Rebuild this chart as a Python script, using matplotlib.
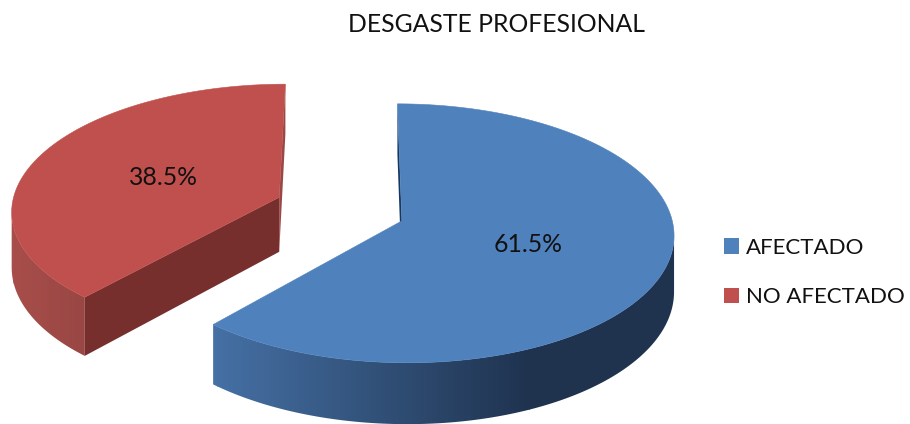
import numpy as np
import matplotlib
matplotlib.use("Agg")
import matplotlib.pyplot as plt
from matplotlib.colors import LinearSegmentedColormap
from matplotlib.patches import Patch, Polygon

title = "DESGASTE PROFESIONAL"
categories = ["AFECTADO", "NO AFECTADO"]
shares = [61.5, 38.5]
top_colors = ["#4f81bd", "#c0504d"]
cut_colors = ["#17375e", "#772f2e"]
side_ramps = [("#4570a4", "#1f334f"), ("#a84e4a", "#984644")]
ramp_spans = [(217, 530), (13, 88)]

plt.rcParams["font.family"] = ["Lato", "DejaVu Sans"]

# Perspective camera for the tilted pie, working in figure pixels.
VANISH_X, CENTRE_X, CENTRE_Y = 351.0, 340.0, 209.0
RADIUS_X, RADIUS_Y, THICKNESS = 268.0, 126.0, 55.0
PERSPECTIVE, EXPLODE_X, EXPLODE_Z = 0.095, 0.245, 0.265
LABEL_RADIUS = 0.483


def project(x, z, depth=0.0):
    """Map ground-plane coordinates to the screen; depth 1 is the underside."""
    s = 1.0 / (1.0 + PERSPECTIVE * z)
    sx = VANISH_X + (CENTRE_X - VANISH_X + RADIUS_X * x) * s
    sy = CENTRE_Y - RADIUS_Y * z * s + THICKNESS * depth * s
    return np.column_stack([np.atleast_1d(sx), np.atleast_1d(sy)])


def shaded_wall(outline, colors, span, zorder):
    """Fill a polygon with a left-to-right colour ramp."""
    cmap = LinearSegmentedColormap.from_list("wall", colors)
    gradient = np.linspace(0, 1, 256)[None, :]
    img = ax.imshow(gradient, cmap=cmap, extent=(span[0], span[1], 424, 0), aspect="auto",
                    interpolation="bilinear", zorder=zorder)
    # The ramp holds its end colours outside the span.
    lo = ax.imshow(gradient[:, :1], cmap=cmap, vmin=0, vmax=1, extent=(0, span[0] + 1, 424, 0),
                   aspect="auto", zorder=zorder)
    hi = ax.imshow(gradient[:, -1:], cmap=cmap, vmin=0, vmax=1, extent=(span[1] - 1, 910, 424, 0),
                   aspect="auto", zorder=zorder)
    clip = Polygon(outline, closed=True, transform=ax.transData)
    for im in (img, lo, hi):
        im.set_clip_path(clip)


fig = plt.figure(figsize=(9.10, 4.24), dpi=100, facecolor="white")
ax = fig.add_axes([0, 0, 1, 1])
ax.axis("off")

fractions = np.array(shares) / sum(shares)
edges = np.concatenate([[0], np.cumsum(fractions)]) * 2 * np.pi

# The smaller slice sits further back, so it goes down first.
for i in [1, 0]:
    start, stop = edges[i], edges[i + 1]
    mid = (start + stop) / 2
    ox, oz = EXPLODE_X * np.sin(mid), EXPLODE_Z * np.cos(mid)
    theta = np.linspace(start, stop, 241)
    arc_x, arc_z = ox + np.sin(theta), oz + np.cos(theta)

    rim_top = project(arc_x, arc_z)
    rim_bot = project(arc_x, arc_z, 1.0)
    apex_top = project(ox, oz)
    apex_bot = project(ox, oz, 1.0)
    base = 10 * (1 - i)

    # Radial cut facing away from the viewer, behind the rim.
    if i == 0:
        back = [rim_top[0], apex_top[0], apex_bot[0], rim_bot[0]]
        ax.add_patch(Polygon(back, closed=True, fc=cut_colors[0], ec="none", zorder=base + 1))
    else:
        back = [rim_top[-1], apex_top[0], apex_bot[0], rim_bot[-1]]
        ax.add_patch(Polygon(back, closed=True, fc="#9a4845", ec="none", zorder=base + 1))

    # Shaded outer wall: only the part of the rim that faces the viewer.
    if i == 0:
        facing = np.arange(np.argmax(rim_top[:, 0]), len(theta))
    else:
        facing = np.arange(0, np.argmin(rim_top[:, 0]) + 1)
    wall = np.vstack([rim_top[facing], rim_bot[facing][::-1]])
    shaded_wall(wall, side_ramps[i], ramp_spans[i], base + 2)

    if i == 1:
        front = [apex_top[0], rim_top[0], rim_bot[0], apex_bot[0]]
        ax.add_patch(Polygon(front, closed=True, fc=cut_colors[1], ec="none", zorder=base + 3))

    # Top face.
    outline = np.vstack([apex_top, rim_top])
    ax.add_patch(Polygon(outline, closed=True, fc=top_colors[i], ec=top_colors[i], lw=0.4, zorder=base + 4))

    lx, lz = ox + LABEL_RADIUS * np.sin(mid), oz + LABEL_RADIUS * np.cos(mid)
    pos = project(lx, lz)[0]
    ax.text(pos[0] + 1.5, pos[1] + 1, f"{shares[i]:.1f}%", ha="center", va="center",
            fontsize=17.8, color="#111111", zorder=30)

ax.set_xlim(0, 910)
ax.set_ylim(424, 0)

ax.text(497, 24, title, ha="center", va="center", fontsize=17.8, color="#111111")

handles = [Patch(fc=c, ec="none") for c in top_colors]
ax.legend(handles, categories, loc="upper left", bbox_to_anchor=(717.4, 231), bbox_transform=ax.transData,
          frameon=False, fontsize=16, labelcolor="#111111", handlelength=0.68, handleheight=0.68,
          handletextpad=0.32, labelspacing=1.34, borderpad=0.3, borderaxespad=0)

fig.savefig("out.png", dpi=100)
